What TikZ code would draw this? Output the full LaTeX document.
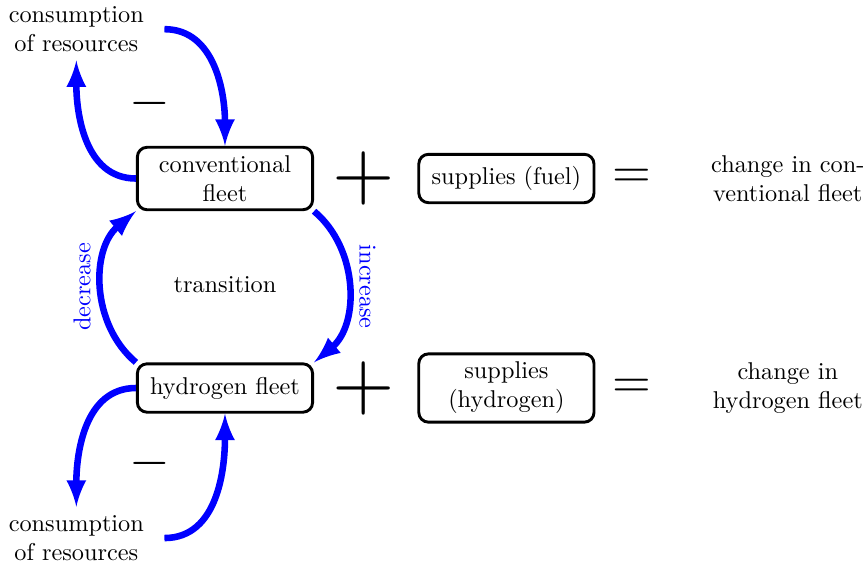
\documentclass[tikz,border=0pt]{standalone}
\usepackage{amsmath}
\usepackage{tikz}
\usetikzlibrary{arrows}
\usetikzlibrary{positioning}
\tikzset{font={\fontsize{10pt}{12}\selectfont}}

\begin{document}
\begin{tikzpicture}[
fleetbox/.style={draw,very thick,rounded corners,text width=2.3cm,align=center,minimum height=0.7cm},
textbox/.style={text width=2.3cm,align=center},
flow/.style={-latex,blue,line width=2.7pt},
flowlabel/.style={midway,above,sloped,text=blue}
]
\useasboundingbox (-3.254,-5.604) rectangle (9.3,2.582);

\node[fleetbox] (conv) at (0,0) {conventional fleet};
\node[fleetbox] (hyd) at (0,-3.03) {hydrogen fleet};
\node[fleetbox] (fuel) at (4.07,0) {supplies (fuel)};
\node[fleetbox] (supph) at (4.07,-3.03) {supplies (hydrogen)};
\node[textbox] (chconv) at (8.14,0) {change in conventional fleet};
\node[textbox] (chhyd) at (8.14,-3.03) {change in hydrogen fleet};
\node[textbox] (consconv) at (-2.15,2.16) {consumption of resources};
\node[textbox] (conshyd) at (-2.15,-5.2) {consumption of resources};
\node (trans) at (0,-1.54) {transition};

% the balance signs
\node (plusconv) at (2,0) {\scalebox{3.3}{$+$}};
\node (plushyd) at (2,-3.03) {\scalebox{3.3}{$+$}};
\node (eqconv) at (5.89,0) {\scalebox{2.05}{$=$}};
\node (eqhyd) at (5.89,-3.03) {\scalebox{2.05}{$=$}};
\node (minconv) at (-1.08,1.09) {\scalebox{2.15}{$-$}};
\node (minhyd) at (-1.08,-4.115) {\scalebox{2.15}{$-$}};

% flows
\draw[flow] (conv.west) to[out=180,in=-90] (consconv.south);
\draw[flow] (consconv.east) to[out=0,in=90] (conv.north);
\draw[flow] (hyd.west) to[out=180,in=90] (conshyd.north);
\draw[flow] (conshyd.east) to[out=0,in=-90] (hyd.south);
\draw[flow] (hyd.north west) to[bend left=50] node[flowlabel] {decrease} (conv.south west);
\draw[flow] (conv.south east) to[bend left=50] node[flowlabel] {increase} (hyd.north east);

\end{tikzpicture}
\end{document}
